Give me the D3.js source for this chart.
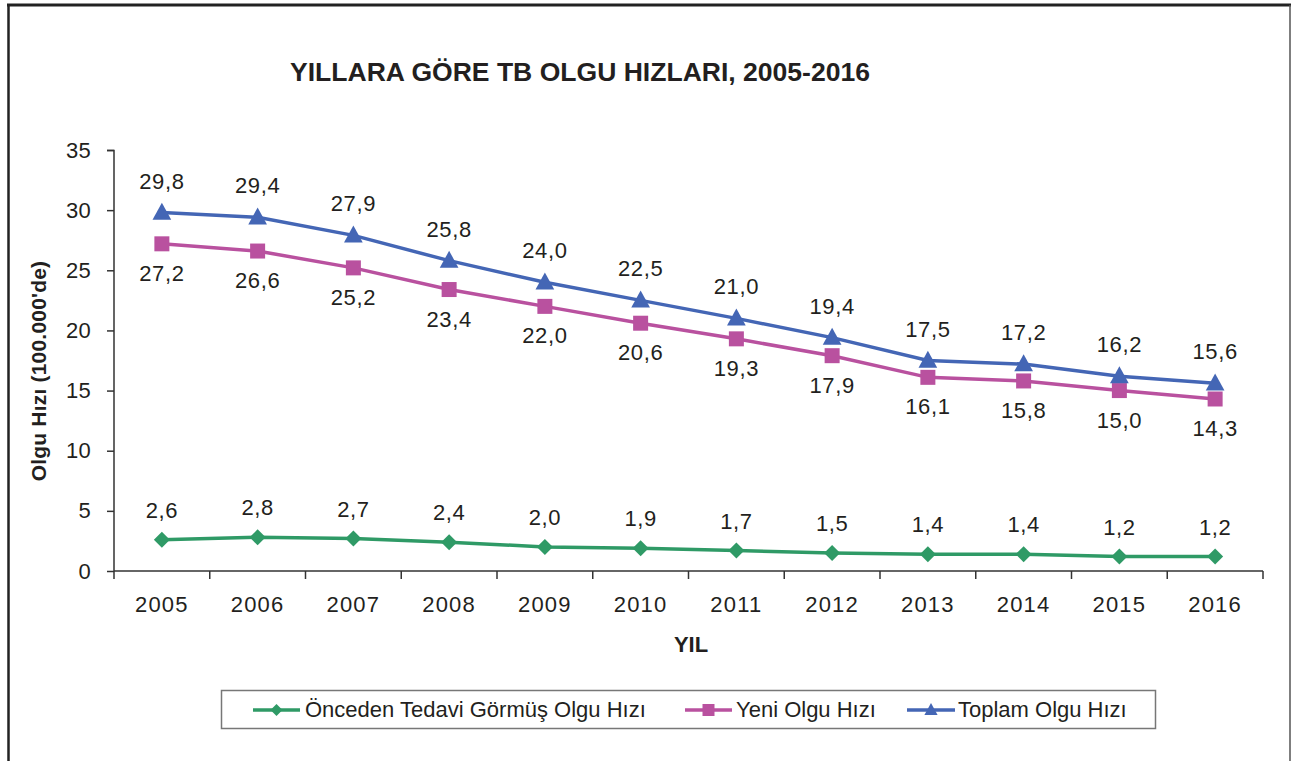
<!DOCTYPE html>
<html><head><meta charset="utf-8">
<script src="https://cdn.jsdelivr.net/npm/d3@7"></script>
<style>
html,body{margin:0;padding:0;background:#fff;}
svg{display:block;font-family:"Liberation Sans",Arial,Helvetica,sans-serif;}
</style></head>
<body><svg id="c" width="1291" height="761"></svg>
<script>
const years = ["2005","2006","2007","2008","2009","2010","2011","2012","2013","2014","2015","2016"];
const onceden = [2.6,2.8,2.7,2.4,2.0,1.9,1.7,1.5,1.4,1.4,1.2,1.2];
const yeni = [27.2,26.6,25.2,23.4,22.0,20.6,19.3,17.9,16.1,15.8,15.0,14.3];
const toplam = [29.8,29.4,27.9,25.8,24.0,22.5,21.0,19.4,17.5,17.2,16.2,15.6];
const yTicks = [0,5,10,15,20,25,30,35];
const seriesNames = ["Önceden Tedavi Görmüş Olgu Hızı","Yeni Olgu Hızı","Toplam Olgu Hızı"];
const title = "YILLARA GÖRE TB OLGU HIZLARI, 2005-2016";
const yTitle = "Olgu Hızı (100.000'de)";
const xTitle = "YIL";

const svg = d3.select("#c");
const txt = "#231f20";
const fmt = v => v.toFixed(1).replace(".", ",");

// frame
svg.append("line").attr("x1",8.5).attr("x2",8.5).attr("y1",4).attr("y2",761).attr("stroke","#222").attr("stroke-width",2.5);
svg.append("line").attr("x1",7).attr("x2",1291).attr("y1",5).attr("y2",5).attr("stroke","#222").attr("stroke-width",3);
svg.append("line").attr("x1",1290).attr("x2",1290).attr("y1",5).attr("y2",761).attr("stroke","#555").attr("stroke-width",1.5);

const x = d3.scaleBand().domain(years).range([114,1263]).padding(0);
const y = d3.scaleLinear().domain([0,35]).range([571,150]);
const cx = d => x(d) + x.bandwidth()/2;

// title
svg.append("text").attr("x",290).attr("y",81).attr("font-size",25).attr("font-weight","bold")
  .attr("fill",txt).attr("textLength",580).attr("lengthAdjust","spacingAndGlyphs").text(title);

// y axis
const yAxis = d3.axisLeft(y).tickValues(yTicks).tickSize(7).tickPadding(16).tickFormat(d3.format("d"));
const gy = svg.append("g").attr("transform","translate(114,0)").call(yAxis);
gy.select(".domain").attr("stroke","#333").attr("stroke-width",1.5).attr("d","M-7,150.5H0V571");
gy.selectAll(".tick line").attr("stroke","#333").attr("stroke-width",1.5);
gy.selectAll(".tick text").attr("font-size",22).attr("fill",txt).attr("font-family","Liberation Sans, Arial, sans-serif").attr("letter-spacing",0.3);

// x axis
const xAxis = d3.axisBottom(x).tickSize(0).tickPadding(25);
const gx = svg.append("g").attr("transform","translate(0,571)").call(xAxis);
gx.select(".domain").attr("stroke","#333").attr("stroke-width",1.5).attr("d","M114,0H1263");
gx.selectAll(".tick text").attr("font-size",22).attr("fill",txt).attr("font-family","Liberation Sans, Arial, sans-serif").attr("letter-spacing",1.2);
// boundary ticks
const bounds = years.map(d => x(d)).concat([x(years[years.length-1]) + x.bandwidth()]);
gx.selectAll("line.bt").data(bounds).enter().append("line").attr("class","bt")
  .attr("x1",d=>d).attr("x2",d=>d).attr("y1",0).attr("y2",8).attr("stroke","#333").attr("stroke-width",1.5);

// axis titles
svg.append("text").attr("transform","translate(46,371) rotate(-90)").attr("text-anchor","middle")
  .attr("font-size",21).attr("font-weight","bold").attr("fill",txt).attr("letter-spacing",0.2).text(yTitle);
svg.append("text").attr("x",691).attr("y",652).attr("text-anchor","middle")
  .attr("font-size",22).attr("font-weight","bold").attr("fill",txt).text(xTitle);

const colors = ["#2f9a66","#b9519f","#4466b5"];
const datasets = [onceden, yeni, toplam];
const line = d3.line().x((d,i)=>cx(years[i])).y(d=>y(d));

function marker(g, kind, color, s) {
  if (kind === 0) {
    g.append("path").attr("d", d3.symbol(d3.symbolSquare, s*s/2)()).attr("transform","rotate(45)").attr("fill",color);
  } else if (kind === 1) {
    g.append("path").attr("d", d3.symbol(d3.symbolSquare, s*s)()).attr("fill",color);
  } else {
    const h = s;
    g.append("path").attr("d", `M0,${-h*0.58}L${h*0.55},${h*0.42}L${-h*0.55},${h*0.42}Z`).attr("fill",color);
  }
}

const sizes = [16,15,17];
const labelDy = [-22, 37, -24];
datasets.forEach((data, k) => {
  svg.append("path").datum(data).attr("d", line).attr("fill","none").attr("stroke",colors[k]).attr("stroke-width",3.5);
  data.forEach((v,i) => {
    const g = svg.append("g").attr("transform",`translate(${cx(years[i])},${y(v)})`);
    marker(g, k, colors[k], sizes[k]);
  });
  svg.selectAll(null).data(data).enter().append("text")
    .attr("x",(d,i)=>cx(years[i])).attr("y",d=>y(d)+labelDy[k]).attr("text-anchor","middle")
    .attr("font-size",22).attr("fill",txt).attr("letter-spacing",0.6).text(d=>fmt(d));
});

// legend
svg.append("rect").attr("x",221.5).attr("y",690.5).attr("width",934).attr("height",38).attr("fill","#fff").attr("stroke","#777").attr("stroke-width",1.5);
const leg = [{x0:253,x1:300,tx:305},{x0:685,x1:732,tx:736},{x0:907,x1:955,tx:958}];
leg.forEach((l,k) => {
  svg.append("line").attr("x1",l.x0).attr("x2",l.x1).attr("y1",710).attr("y2",710).attr("stroke",colors[k]).attr("stroke-width",3.5);
  const g = svg.append("g").attr("transform",`translate(${(l.x0+l.x1)/2},710)`);
  marker(g, k, colors[k], 12);
  svg.append("text").attr("x",l.tx).attr("y",717).attr("font-size",22).attr("fill",txt).text(seriesNames[k]);
});
</script></body></html>
